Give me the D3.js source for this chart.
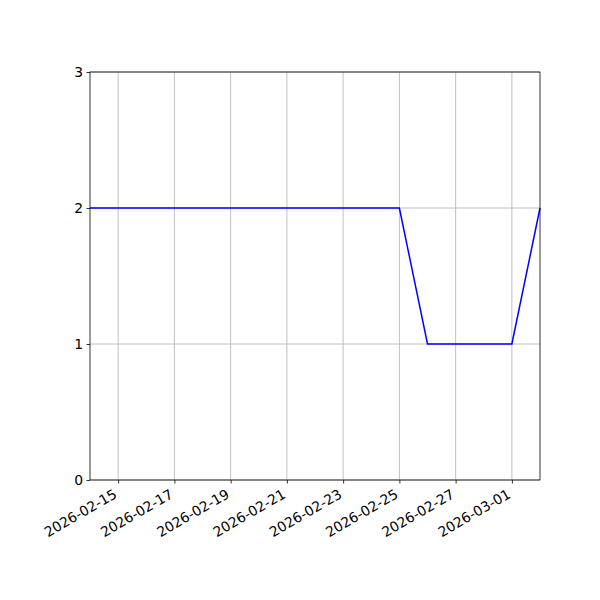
<!DOCTYPE html>
<html><head><meta charset="utf-8">
<script src="https://cdn.jsdelivr.net/npm/d3@7"></script>
<style>body{margin:0;background:#fff}svg{display:block}text{font-family:"DejaVu Sans",sans-serif}</style>
</head><body>
<script>
const dates = ["2026-02-14","2026-02-15","2026-02-16","2026-02-17","2026-02-18","2026-02-19","2026-02-20","2026-02-21","2026-02-22","2026-02-23","2026-02-24","2026-02-25","2026-02-26","2026-02-27","2026-02-28","2026-03-01","2026-03-02"];
const values = [2,2,2,2,2,2,2,2,2,2,2,2,1,1,1,1,2];
const xTicks = ["2026-02-15","2026-02-17","2026-02-19","2026-02-21","2026-02-23","2026-02-25","2026-02-27","2026-03-01"];
const yTicks = [0,1,2,3];

const parse = d3.utcParse("%Y-%m-%d");
const data = dates.map((d,i)=>({date:parse(d), value:values[i]}));
const W=600,H=600, m={l:90,r:60,t:72,b:120};
const svg = d3.select("body").append("svg").attr("width",W).attr("height",H);
const x = d3.scaleUtc().domain([parse(dates[0]), parse(dates[dates.length-1])]).range([m.l, W-m.r]);
const y = d3.scaleLinear().domain([0,3]).range([H-m.b, m.t]);

// grid
svg.append("g").selectAll("line").data(xTicks).join("line")
  .attr("x1",d=>x(parse(d))).attr("x2",d=>x(parse(d)))
  .attr("y1",m.t).attr("y2",H-m.b).attr("stroke","#b0b0b0").attr("stroke-width",0.8);
svg.append("g").selectAll("line").data(yTicks).join("line")
  .attr("x1",m.l).attr("x2",W-m.r)
  .attr("y1",d=>y(d)).attr("y2",d=>y(d)).attr("stroke","#b0b0b0").attr("stroke-width",0.8);

// line
svg.append("path").datum(data)
  .attr("d", d3.line().x(d=>x(d.date)).y(d=>y(d.value)))
  .attr("fill","none").attr("stroke","#0000ff").attr("stroke-width",1.5);

// frame
svg.append("rect").attr("x",m.l).attr("y",m.t).attr("width",W-m.l-m.r).attr("height",H-m.t-m.b)
  .attr("fill","none").attr("stroke","#000").attr("stroke-width",0.8);

// x axis
const xa = svg.append("g").attr("transform",`translate(0,${H-m.b})`)
  .call(d3.axisBottom(x).tickValues(xTicks.map(parse)).tickFormat(d3.utcFormat("%Y-%m-%d")).tickSize(3.5).tickSizeOuter(0));
xa.select(".domain").remove();
xa.selectAll("line").attr("stroke","#000").attr("stroke-width",0.8);
xa.selectAll("text").attr("font-size","13.9px").attr("fill","#000").attr("font-family","DejaVu Sans")
  .attr("text-anchor","end").attr("dy",null).attr("y",null)
  .attr("transform","translate(-6,8) rotate(-30)").attr("dominant-baseline","hanging");

// y axis
const ya = svg.append("g").attr("transform",`translate(${m.l},0)`)
  .call(d3.axisLeft(y).tickValues(yTicks).tickFormat(d3.format("d")).tickSize(3.5).tickSizeOuter(0));
ya.select(".domain").remove();
ya.selectAll("line").attr("stroke","#000").attr("stroke-width",0.8);
ya.selectAll("text").attr("font-size","13.9px").attr("fill","#000").attr("font-family","DejaVu Sans").attr("x",-7);
</script>
</body></html>
